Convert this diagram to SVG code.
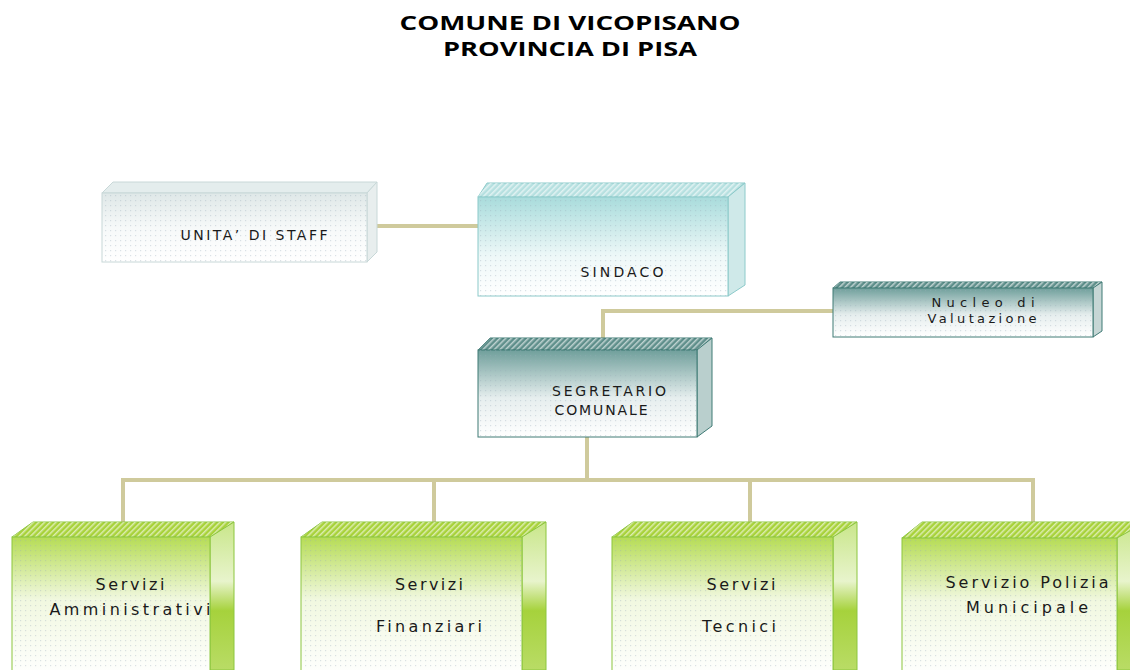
<svg xmlns="http://www.w3.org/2000/svg" width="1130" height="670" viewBox="0 0 1130 670">
<defs>
<style>
.title{font-family:"Open Sans","Liberation Sans",sans-serif;font-weight:bold;font-size:20px;fill:#000;text-anchor:middle}
.lbl{font-family:"DejaVu Sans","Liberation Sans",sans-serif;font-size:14px;fill:#1a1a1a;text-anchor:middle}
.lbln{font-family:"DejaVu Sans","Liberation Sans",sans-serif;font-size:13px;fill:#1a1a1a;text-anchor:middle}
.lblb{font-family:"DejaVu Sans","Liberation Sans",sans-serif;font-size:16px;fill:#1a1a1a;text-anchor:middle}
.conn{fill:none;stroke:#cfca9c;stroke-width:4}
</style>
<pattern id="dots" width="5" height="5" patternUnits="userSpaceOnUse">
<rect x="0" y="0" width="1.2" height="1.2" fill="#9ab" opacity="0.35"/>
</pattern>
<pattern id="hatch" width="4" height="4" patternUnits="userSpaceOnUse" patternTransform="rotate(45)">
<rect x="0" y="0" width="1.5" height="4" fill="#fff" opacity="0.6"/>
</pattern>
<linearGradient id="gStaff" x1="0" y1="0" x2="0" y2="1">
<stop offset="0" stop-color="#dfe8e8"/><stop offset="0.5" stop-color="#f6f9f9"/><stop offset="1" stop-color="#fff"/>
</linearGradient>
<linearGradient id="gSind" x1="0" y1="0" x2="0" y2="1">
<stop offset="0" stop-color="#a9dcdc"/><stop offset="0.6" stop-color="#eef8f8"/><stop offset="1" stop-color="#fff"/>
</linearGradient>
<linearGradient id="gDark" x1="0" y1="0" x2="0" y2="1">
<stop offset="0" stop-color="#6f9f9b"/><stop offset="0.55" stop-color="#e6eeee"/><stop offset="1" stop-color="#fff"/>
</linearGradient>
<linearGradient id="gGreen" x1="0" y1="0" x2="0" y2="1">
<stop offset="0" stop-color="#b6dc55"/><stop offset="0.45" stop-color="#f1f8e0"/><stop offset="1" stop-color="#fff"/>
</linearGradient>
<linearGradient id="gGreenSide" x1="0" y1="0" x2="0" y2="1">
<stop offset="0" stop-color="#c9e68a"/><stop offset="0.4" stop-color="#e8f4cc"/><stop offset="0.6" stop-color="#a6d23c"/><stop offset="1" stop-color="#b9dc66"/>
</linearGradient>
</defs>
<rect width="1130" height="670" fill="#fff"/>
<text class="title" x="570" y="30" textLength="341" lengthAdjust="spacingAndGlyphs">COMUNE DI VICOPISANO</text>
<text class="title" x="570" y="56" textLength="254" lengthAdjust="spacingAndGlyphs">PROVINCIA DI PISA</text>

<g id="connectors">
<polyline class="conn" points="377,226 478,226"/>
<polyline class="conn" points="833,311 603,311 603,339"/>
<polyline class="conn" points="587,437 587,480"/>
<polyline class="conn" points="123,522 123,480 1033,480 1033,522"/>
<polyline class="conn" points="434,480 434,522"/>
<polyline class="conn" points="750,480 750,522"/>
</g>

<g id="staff">
<polygon points="102,193 113,182 377,182 367,193" fill="#e4eded" stroke="#c8d8d8"/>
<polygon points="367,193 377,182 377,252 367,262" fill="#e8eeee" stroke="#c8d8d8"/>
<rect x="102" y="193" width="265" height="69" fill="url(#gStaff)" stroke="#c8d8d8"/>
<rect x="102" y="193" width="265" height="69" fill="url(#dots)"/>
<text class="lbl" x="254" y="240" textLength="147" lengthAdjust="spacing">UNITA’ DI STAFF</text>
</g>

<g id="sindaco">
<polygon points="478,197 487,183 745,183 728,197" fill="#b6e0e0" stroke="#8ccaca"/>
<polygon points="478,197 487,183 745,183 728,197" fill="url(#hatch)"/>
<polygon points="728,197 745,183 745,285 728,296" fill="#cfe9e9" stroke="#8ccaca"/>
<rect x="478" y="197" width="250" height="99" fill="url(#gSind)" stroke="#8ccaca"/>
<rect x="478" y="197" width="250" height="99" fill="url(#dots)"/>
<text class="lbl" x="622" y="277" textLength="83" lengthAdjust="spacing">SINDACO</text>
</g>

<g id="nucleo">
<polygon points="833,288 840,282 1102,282 1093,288" fill="#5f8f8b" stroke="#3f7a75"/>
<polygon points="833,288 840,282 1102,282 1093,288" fill="url(#hatch)"/>
<polygon points="1093,288 1102,282 1102,331 1093,337" fill="#c6d6d5" stroke="#3f7a75"/>
<rect x="833" y="288" width="260" height="49" fill="url(#gDark)" stroke="#3f7a75"/>
<rect x="833" y="288" width="260" height="49" fill="url(#dots)"/>
<text class="lbln" x="983" y="307" textLength="103" lengthAdjust="spacing">Nucleo di</text>
<text class="lbln" x="982" y="323" textLength="109" lengthAdjust="spacing">Valutazione</text>
</g>

<g id="segretario">
<polygon points="478,350 490,338 712,338 697,350" fill="#5f8f8b" stroke="#3f7a75"/>
<polygon points="478,350 490,338 712,338 697,350" fill="url(#hatch)"/>
<polygon points="697,350 712,338 712,426 697,437" fill="#b9cfcd" stroke="#3f7a75"/>
<rect x="478" y="350" width="219" height="87" fill="url(#gDark)" stroke="#3f7a75"/>
<rect x="478" y="350" width="219" height="87" fill="url(#dots)"/>
<text class="lbl" x="609" y="396" textLength="114" lengthAdjust="spacing">SEGRETARIO</text>
<text class="lbl" x="601" y="415" textLength="93" lengthAdjust="spacing">COMUNALE</text>
</g>

<g id="amministrativi">
<polygon points="12,537 33,522 234,522 210,537" fill="#a8d23a" stroke="#8cc63f"/>
<polygon points="12,537 33,522 234,522 210,537" fill="url(#hatch)"/>
<polygon points="210,537 234,522 234,670 210,670" fill="url(#gGreenSide)" stroke="#8cc63f"/>
<rect x="12" y="537" width="198" height="140" fill="url(#gGreen)" stroke="#8cc63f"/>
<rect x="12" y="537" width="198" height="140" fill="url(#dots)"/>
<text class="lblb" x="130" y="590" textLength="69" lengthAdjust="spacing">Servizi</text>
<text class="lblb" x="130" y="615" textLength="161" lengthAdjust="spacing">Amministrativi</text>
</g>

<g id="finanziari">
<polygon points="301,537 322,522 546,522 522,537" fill="#a8d23a" stroke="#8cc63f"/>
<polygon points="301,537 322,522 546,522 522,537" fill="url(#hatch)"/>
<polygon points="522,537 546,522 546,670 522,670" fill="url(#gGreenSide)" stroke="#8cc63f"/>
<rect x="301" y="537" width="221" height="140" fill="url(#gGreen)" stroke="#8cc63f"/>
<rect x="301" y="537" width="221" height="140" fill="url(#dots)"/>
<text class="lblb" x="429" y="590" textLength="68" lengthAdjust="spacing">Servizi</text>
<text class="lblb" x="429" y="632" textLength="106" lengthAdjust="spacing">Finanziari</text>
</g>

<g id="tecnici">
<polygon points="612,537 633,522 857,522 833,537" fill="#a8d23a" stroke="#8cc63f"/>
<polygon points="612,537 633,522 857,522 833,537" fill="url(#hatch)"/>
<polygon points="833,537 857,522 857,670 833,670" fill="url(#gGreenSide)" stroke="#8cc63f"/>
<rect x="612" y="537" width="221" height="140" fill="url(#gGreen)" stroke="#8cc63f"/>
<rect x="612" y="537" width="221" height="140" fill="url(#dots)"/>
<text class="lblb" x="741" y="590" textLength="69" lengthAdjust="spacing">Servizi</text>
<text class="lblb" x="739" y="632" textLength="74" lengthAdjust="spacing">Tecnici</text>
</g>

<g id="polizia">
<polygon points="902,538 922,522 1146,522 1117,538" fill="#a8d23a" stroke="#8cc63f"/>
<polygon points="902,538 922,522 1146,522 1117,538" fill="url(#hatch)"/>
<polygon points="1117,538 1146,522 1146,670 1117,670" fill="url(#gGreenSide)" stroke="#8cc63f"/>
<rect x="902" y="538" width="215" height="140" fill="url(#gGreen)" stroke="#8cc63f"/>
<rect x="902" y="538" width="215" height="140" fill="url(#dots)"/>
<text class="lblb" x="1027" y="588" textLength="163" lengthAdjust="spacing">Servizio Polizia</text>
<text class="lblb" x="1027" y="613" textLength="122" lengthAdjust="spacing">Municipale</text>
</g>
</svg>
